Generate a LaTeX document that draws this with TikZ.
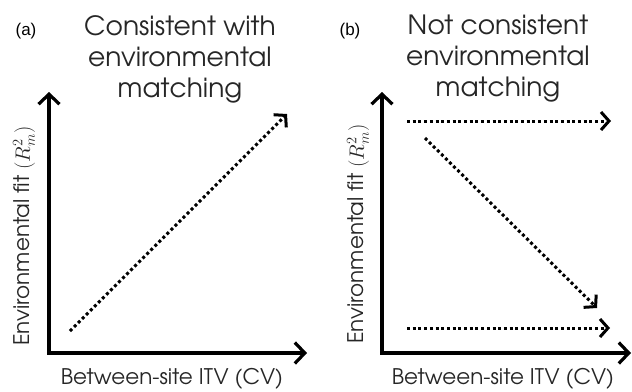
\documentclass[tikz,border=0pt]{standalone}
\usepackage{fontspec}
\setmainfont{TeX Gyre Adventor}
\newfontfamily\arial{Liberation Sans}
\usetikzlibrary{arrows.meta,calc}
\begin{document}
\begin{tikzpicture}[x=1pt,y=-1pt,
  axis/.style={line width=3.2pt,-{Straight Barb[length=10pt,width=21pt,line width=3.2pt]}},
  trend/.style={line width=3pt,dash pattern=on 3pt off 2.7pt,-{Straight Barb[length=8pt,width=18pt,line width=3pt]}},
  title/.style={align=center,font=\fontsize{26.5}{31}\selectfont,text=black!85},
  axlabel/.style={font=\fontsize{21.5}{24}\selectfont,text=black!85},
  panel/.style={font=\arial\fontsize{17}{20}\selectfont}]
\useasboundingbox (0,0) rectangle (632,391);
% panel a
\node[panel] (pa) at (26,31) {(a)};
\node[title] (ta) at (180,59) {Consistent with\\environmental\\matching};
\coordinate (oa) at (49,353);
\coordinate (ya) at (49,92);
\coordinate (xa) at (307,353);
\draw[axis] ($(oa)+(0,1.6)$) -- (ya);
\draw[axis] ($(oa)+(-1.6,0)$) -- (xa);
\node[axlabel,rotate=90] (yla) at (24,236) {Environmental fit $(R^2_m)$};
\node[axlabel] (xla) at (172,379) {Between-site ITV (CV)};
\coordinate (a1) at (70,331);
\coordinate (a2) at (287,114);
\draw[trend] (a1) -- (a2);
% panel b
\node[panel] (pb) at (350,31) {(b)};
\node[title] (tb) at (498,59) {Not consistent\\environmental\\matching};
\coordinate (ob) at (382,353);
\coordinate (yb) at (382,92);
\coordinate (xb) at (631,353);
\draw[axis] ($(ob)+(0,1.6)$) -- (yb);
\draw[axis] ($(ob)+(-1.6,0)$) -- (xb);
\node[axlabel,rotate=90] (ylb) at (358,234) {Environmental fit $(R^2_m)$};
\node[axlabel] (xlb) at (503,379) {Between-site ITV (CV)};
\coordinate (b1) at (407,121);
\coordinate (b2) at (611,121);
\coordinate (b3) at (425,138);
\coordinate (b4) at (597,308);
\coordinate (b5) at (407,328);
\coordinate (b6) at (610,328);
\draw[trend] (b1) -- (b2);
\draw[trend] (b3) -- (b4);
\draw[trend] (b5) -- (b6);
\end{tikzpicture}
\end{document}
